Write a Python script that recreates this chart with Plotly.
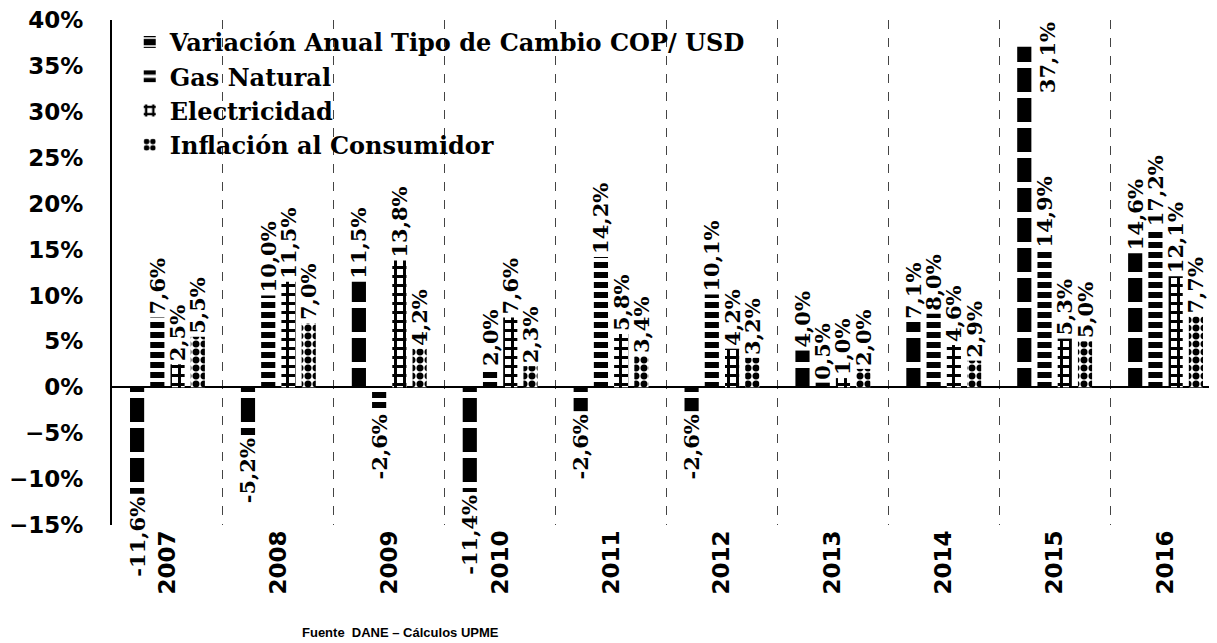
import plotly.graph_objects as go

years = ["2007", "2008", "2009", "2010", "2011", "2012", "2013", "2014", "2015", "2016"]
fx = [-11.6, -5.2, 11.5, -11.4, -2.6, -2.6, 4.0, 7.1, 37.1, 14.6]
gas = [7.6, 10.0, -2.6, 2.0, 14.2, 10.1, 0.5, 8.0, 14.9, 17.2]
elec = [2.5, 11.5, 13.8, 7.6, 5.8, 4.2, 1.0, 4.6, 5.3, 12.1]
infl = [5.5, 7.0, 4.2, 2.3, 3.4, 3.2, 2.0, 2.9, 5.0, 7.7]

names = ["Variación Anual Tipo de Cambio COP/ USD", "Gas Natural", "Electricidad",
         "Inflación al Consumidor"]
series = [fx, gas, elec, infl]

patterns = [
    dict(shape="-", bgcolor="black", fgcolor="white", size=30, solidity=0.2, fillmode="replace"),
    dict(shape="-", bgcolor="white", fgcolor="black", size=10, solidity=0.6, fillmode="replace"),
    dict(shape="+", bgcolor="white", fgcolor="black", size=9, solidity=0.55, fillmode="replace"),
    dict(shape=".", bgcolor="white", fgcolor="black", size=8, solidity=0.6, fillmode="replace"),
]

YMIN, YMAX = -15, 40
lab_font = dict(family="DejaVu Serif", size=21, color="black", weight="bold")


def fmt(v):
    return f"{v:.1f}%".replace(".", ",")


fig = go.Figure()
annotations = []
for name, vals, pat in zip(names, series, patterns):
    pos = ["none" if v > YMAX - 6 else "outside" for v in vals]
    fig.add_trace(go.Bar(
        x=years, y=vals, name=name,
        marker=dict(color="black", pattern=pat, line=dict(width=0)),
        text=[fmt(v) for v in vals], textposition=pos, textangle=-90,
        textfont=lab_font, constraintext="none", cliponaxis=False,
    ))
    for i, v in enumerate(vals):
        if v > YMAX - 6:
            annotations.append(dict(
                x=i, y=YMAX, xref="x", yref="y", text=fmt(v), textangle=-90,
                showarrow=False, xshift=-7, yanchor="top",
                font=lab_font))

annotations.append(dict(
    text="Fuente  DANE – Cálculos UPME", xref="paper", yref="paper",
    x=0.26, y=-0.212, showarrow=False, xanchor="center", yanchor="middle",
    font=dict(family="Liberation Sans Narrow, Liberation Sans", size=13,
              color="black", weight="bold")))

fig.update_layout(
    width=1213, height=635,
    margin=dict(l=104, r=0, t=12, b=118, autoexpand=False),
    paper_bgcolor="white", plot_bgcolor="white",
    barmode="group", bargap=0.27, bargroupgap=0.3,
    separators=",.",
    showlegend=True,
    legend=dict(x=0.016, y=1.0, xanchor="left", yanchor="top",
                bgcolor="rgba(0,0,0,0)",
                font=dict(family="DejaVu Serif", size=24, color="black", weight="bold"),
                itemwidth=30, tracegroupgap=0),
    annotations=annotations,
    xaxis=dict(type="category", categoryorder="array", categoryarray=years,
               range=[-0.5, len(years) - 0.5], automargin=False,
               tickson="boundaries", showgrid=True,
               griddash="dash", gridcolor="#444", gridwidth=1, ticks="",
               tickangle=-90, showline=False,
               tickfont=dict(family="DejaVu Sans", size=23, color="black", weight="bold")),
    yaxis=dict(range=[YMIN, YMAX], dtick=5, ticksuffix="%", showgrid=False,
               automargin=False, ticklabeloverflow="allow",
               showline=True, linecolor="black", linewidth=2,
               zeroline=True, zerolinecolor="black", zerolinewidth=2,
               ticks="", ticklabelstandoff=22,
               tickfont=dict(family="DejaVu Sans", size=23, color="black", weight="bold")),
)

fig.write_html("out.html")
